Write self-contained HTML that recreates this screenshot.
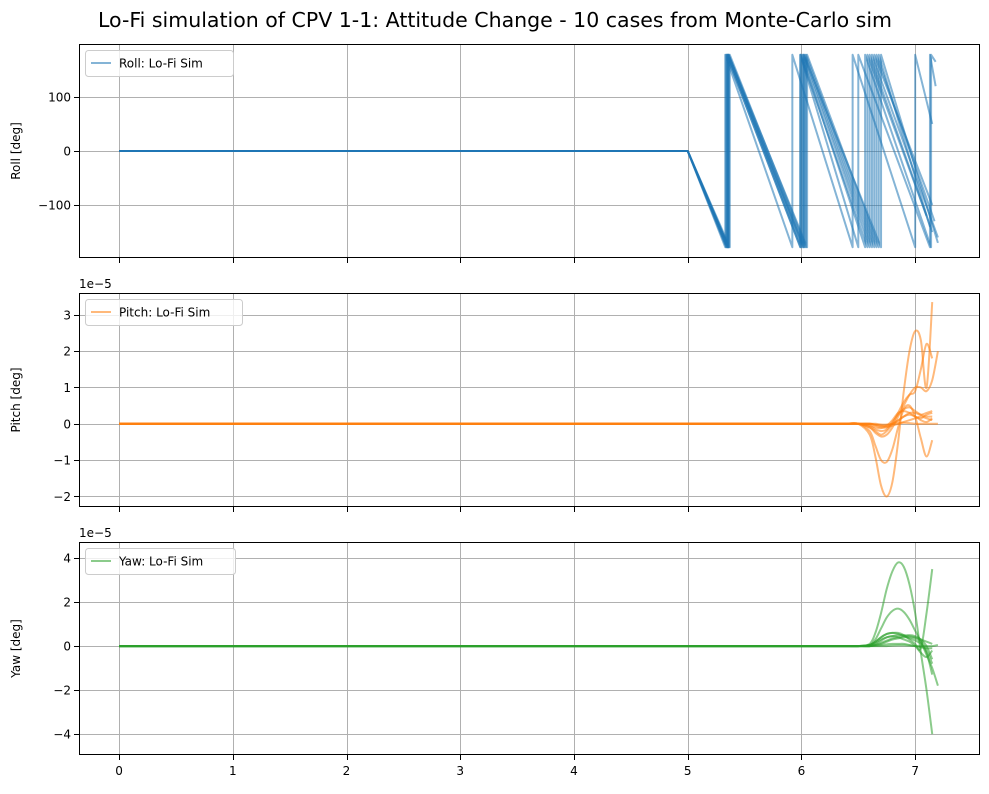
<!DOCTYPE html>
<html><head><meta charset="utf-8"><style>
body{margin:0;background:#fff}
svg text{font-family:"DejaVu Sans","Liberation Sans",sans-serif;fill:#000}
</style></head><body>
<svg id="c" width="989" height="789" xmlns="http://www.w3.org/2000/svg">
<text x="495" y="27" text-anchor="middle" font-size="20.5">Lo-Fi simulation of CPV 1-1: Attitude Change - 10 cases from Monte-Carlo sim</text>
</svg>
<script>
const xTicks=[0,1,2,3,4,5,6,7];
const rollTicks=[-100,0,100];
const pitchTicks=[-2,-1,0,1,2,3];
const yawTicks=[-4,-2,0,2,4];
// roll: wrap times per case and final point
const rollWraps=[[5.33,5.92,6.45,7.0],[5.34,5.99,6.5,7.13],[5.35,6.0,6.56,7.14],[5.35,6.01,6.6],[5.36,6.02,6.62],[5.36,6.03,6.64],[5.37,6.04,6.66],[5.36,6.05,6.68],[5.34,5.99,6.58],[5.35,6.02,6.7]];
const rollEndT=[7.15,7.18,7.18,7.15,7.2,7.15,7.17,7.13,7.1,7.2];
const rollEndV=[50,120,165,-150,-160,-100,-130,-140,-120,-170];
const T=[0,6.4,6.5,6.6,6.65,6.7,6.75,6.8,6.85,6.9,6.95,7.0,7.05,7.1,7.15,7.2];
const pitch=[
[0,0,0,-0.3,-0.9,-1.7,-2.0,-1.6,-0.5,0.9,2.0,2.55,2.3,1.0,3.35,null],
[0,0,0,-0.2,-0.6,-1.0,-1.05,-0.7,-0.1,0.4,0.5,0.2,-0.4,-0.9,-0.45,null],
[0,0,0,-0.1,-0.25,-0.35,-0.3,-0.1,0.2,0.5,0.8,1.0,1.0,0.9,1.2,2.0],
[0,0,0,-0.1,-0.2,-0.3,-0.2,0,0.3,0.6,0.8,0.9,1.5,2.2,1.8,null],
[0,0,0,-0.05,-0.15,-0.2,-0.15,0.05,0.25,0.4,0.45,0.35,0.25,0.2,0.2,null],
[0,0,0,-0.05,-0.1,-0.12,-0.05,0.1,0.3,0.35,0.3,0.2,0.15,0.25,0.3,null],
[0,0,0,0,-0.05,-0.1,-0.1,0,0.1,0.2,0.3,0.3,0.25,0.3,0.35,null],
[0,0,0,0,-0.02,-0.05,-0.08,-0.05,0,0.05,0.1,0.15,0.2,0.15,0.1,null],
[0,0,0,0,0,-0.02,-0.02,0,0.02,0.03,0.02,0,0,0,0,0],
[0,0,0,0,-0.03,-0.06,-0.05,0,0.08,0.2,0.25,0.2,0.1,0.05,0.15,null]];
const yaw=[
[0,0,0,0.1,0.6,1.5,2.6,3.4,3.8,3.6,2.8,1.5,-0.3,-2.0,-4.0,null],
[0,0,0,0.05,0.3,0.8,1.3,1.6,1.7,1.55,1.2,0.7,0.2,-0.4,-1.0,-1.8],
[0,0,0,0.05,0.2,0.4,0.55,0.6,0.6,0.5,0.3,0.1,-0.1,1.5,3.5,null],
[0,0,0,0.05,0.2,0.4,0.55,0.6,0.55,0.45,0.35,0.25,0.1,-0.3,-1.3,null],
[0,0,0,0,0.1,0.25,0.4,0.45,0.5,0.5,0.45,0.4,0.3,0.2,0.1,null],
[0,0,0,0,0.05,0.15,0.25,0.35,0.4,0.45,0.5,0.45,0.3,0,-0.6,null],
[0,0,0,0,0.05,0.1,0.2,0.3,0.35,0.4,0.4,0.35,0.2,-0.2,-0.8,null],
[0,0,0,0,0.02,0.05,0.08,0.1,0.1,0.1,0.05,0,-0.05,-0.1,-0.1,null],
[0,0,0,0,0,0,0,0.02,0.03,0.03,0.02,0,0,0,0,0.05],
[0,0,0,0.05,0.15,0.3,0.4,0.45,0.4,0.3,0.2,0,-0.3,-0.5,-0.2,null]];

const svg=document.getElementById('c');
const NS='http://www.w3.org/2000/svg';
function mk(tag,attrs,parent){const e=document.createElementNS(NS,tag);for(const k in attrs)e.setAttribute(k,attrs[k]);(parent||svg).appendChild(e);return e;}
const L=79,R=980,xmin=-0.352,xmax=7.57;
const X=t=>L+(t-xmin)/(xmax-xmin)*(R-L);
const px=v=>Math.round(v)+0.5;
const panels=[
 {top:44,bot:258,ymin:-198,ymax:198,ticks:rollTicks,label:'Roll [deg]',color:'#1f77b4',leg:'Roll: Lo-Fi Sim',name:'roll',off:false},
 {top:293,bot:507,ymin:-2.29,ymax:3.6,ticks:pitchTicks,label:'Pitch [deg]',color:'#ff7f0e',leg:'Pitch: Lo-Fi Sim',name:'pitch',off:true},
 {top:542,bot:755,ymin:-4.95,ymax:4.73,ticks:yawTicks,label:'Yaw [deg]',color:'#2ca02c',leg:'Yaw: Lo-Fi Sim',name:'yaw',off:true}];
const fmt=v=>v<0?'\u2212'+(-v):''+v;
function smooth(pts){let d='';for(let i=0;i<pts.length-1;i++){const p0=pts[Math.max(0,i-1)],p1=pts[i],p2=pts[i+1],p3=pts[Math.min(pts.length-1,i+2)];d+=' C'+(p1[0]+(p2[0]-p0[0])/6)+','+(p1[1]+(p2[1]-p0[1])/6)+' '+(p2[0]-(p3[0]-p1[0])/6)+','+(p2[1]-(p3[1]-p1[1])/6)+' '+p2[0]+','+p2[1];}return d;}
panels.forEach((p,pi)=>{
 const Y=v=>p.bot-(v-p.ymin)/(p.ymax-p.ymin)*(p.bot-p.top);
 const g=mk('g',{});
 
 
 const clipId='clip'+pi;
 const cp=mk('clipPath',{id:clipId},g);mk('rect',{x:L,y:p.top,width:R-L,height:p.bot-p.top},cp);
 xTicks.forEach(t=>{const xx=px(X(t));const l=mk('line',{x1:xx,x2:xx,y1:p.top,y2:p.bot,stroke:'#b0b0b0','stroke-width':1},g);
  
  mk('line',{x1:xx,x2:xx,y1:p.bot,y2:p.bot+5,stroke:'#000','stroke-width':1},g);
  if(pi==2){const tx=mk('text',{x:X(t),y:p.bot+20,'text-anchor':'middle','font-size':12},g);tx.textContent=t;
   }});
 p.ticks.forEach(v=>{const yy=px(Y(v));const l=mk('line',{x1:L,x2:R,y1:yy,y2:yy,stroke:'#b0b0b0','stroke-width':1},g);
  
  mk('line',{x1:L-5,x2:L,y1:yy,y2:yy,stroke:'#000','stroke-width':1},g);
  const tx=mk('text',{x:L-8,y:Y(v)+4.5,'text-anchor':'end','font-size':12},g);tx.textContent=fmt(v);
  });
 const yl=mk('text',{x:20,y:(p.top+p.bot)/2,'text-anchor':'middle','font-size':12,transform:'rotate(-90 20 '+((p.top+p.bot)/2)+')'},g);yl.textContent=p.label;
 
 if(p.off){const o=mk('text',{x:L,y:p.top-5,'font-size':12},g);o.textContent='1e\u22125';
  }
 const sg=mk('g',{'clip-path':'url(#'+clipId+')'},g);
 for(let c=0;c<10;c++){
  let d;
  if(pi==0){
   const w=rollWraps[c];let pts=[[0,0],[5,0]];
   w.forEach(t=>{pts.push([t,-178]);pts.push([t,178]);});
   pts.push([rollEndT[c],rollEndV[c]]);
   d='M'+pts.map(q=>X(q[0])+','+Y(q[1])).join(' L');
  }else{
   const arr=pi==1?pitch[c]:yaw[c];const pts=[];
   arr.forEach((v,i)=>{if(v!==null)pts.push([X(T[i]),Y(v)]);});
   d='M'+pts[0][0]+','+pts[0][1]+' L'+pts[1][0]+','+pts[1][1]+smooth(pts.slice(1));
  }
  const path=mk('path',{d:d,fill:'none',stroke:p.color,'stroke-width':2,'stroke-opacity':0.55,'stroke-linejoin':'round'},sg);
  
  
 }
 mk('rect',{x:L+0.5,y:p.top+0.5,width:R-L-1,height:p.bot-p.top-1,fill:'none',stroke:'#000','stroke-width':1},g);
 const lg=mk('g',{},g);
 
 const lw=pi==0?148:pi==1?157:150;
 mk('rect',{x:L+6.5,y:p.top+6.5,width:lw,height:26,rx:3,fill:'#fff','fill-opacity':0.8,stroke:'#cccccc','stroke-width':1},lg);
 mk('line',{x1:L+12,x2:L+32,y1:p.top+19,y2:p.top+19,stroke:p.color,'stroke-width':2,'stroke-opacity':0.55},lg);
 const lt=mk('text',{x:L+40,y:p.top+23.5,'font-size':12},lg);lt.textContent=p.leg;
 
});
</script>
</body></html>
